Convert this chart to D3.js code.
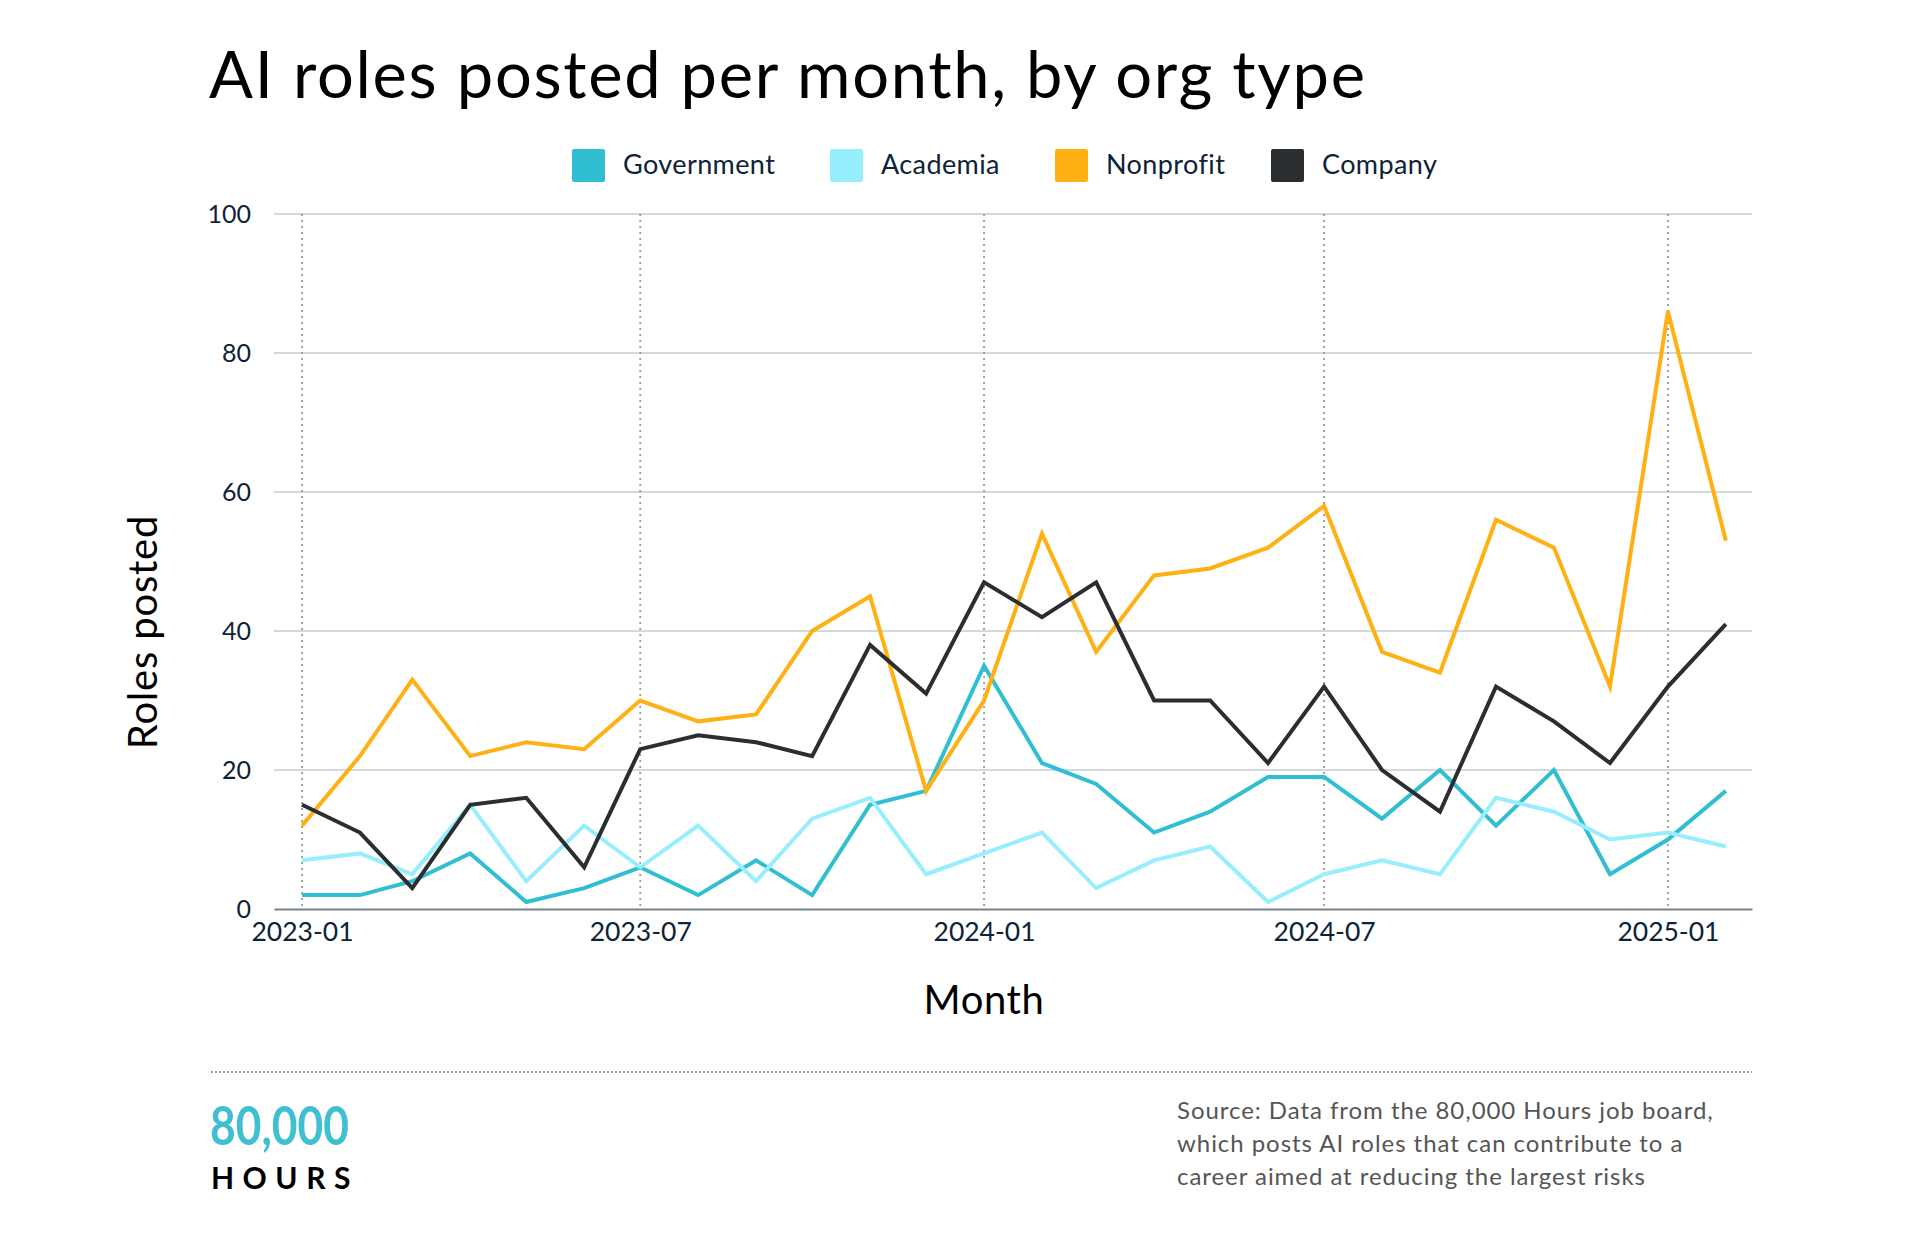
<!DOCTYPE html>
<html><head><meta charset="utf-8">
<script src="https://cdn.jsdelivr.net/npm/d3@7"></script>
<style>
html,body{margin:0;padding:0;background:#fff;}
svg{display:block;font-family:Lato,"Open Sans",sans-serif;}
</style></head>
<body>
<svg id="chart" width="1928" height="1240"></svg>
<script>
const months = ["2023-01","2023-02","2023-03","2023-04","2023-05","2023-06","2023-07","2023-08","2023-09","2023-10","2023-11","2023-12",
"2024-01","2024-02","2024-03","2024-04","2024-05","2024-06","2024-07","2024-08","2024-09","2024-10","2024-11","2024-12","2025-01","2025-02"];
const seriesNames = ["Government","Academia","Nonprofit","Company"];
const government = [2,2,4,8,1,3,6,2,7,2,15,17,35,21,18,11,14,19,19,13,20,12,20,5,10,17];
const academia   = [7,8,5,15,4,12,6,12,4,13,16,5,8,11,3,7,9,1,5,7,5,16,14,10,11,9];
const nonprofit  = [12,22,33,22,24,23,30,27,28,40,45,17,30,54,37,48,49,52,58,37,34,56,52,32,86,53];
const company    = [15,11,3,15,16,6,23,25,24,22,38,31,47,42,47,30,30,21,32,20,14,32,27,21,32,41];
const colors = ["#30bfd2","#97eefc","#ffb012","#2b2e30"];
const xTickLabels = ["2023-01","2023-07","2024-01","2024-07","2025-01"];
const yTicks = [0,20,40,60,80,100];

const series = [government, academia, nonprofit, company];
const svg = d3.select("#chart");
const parse = d3.timeParse("%Y-%m");
const dates = months.map(parse);

const L = 274, R = 1752, T = 214, B = 909;
const x = d3.scaleTime()
  .domain([d3.timeDay.offset(dates[0], -14.5), d3.timeDay.offset(dates[dates.length-1], 14.5)])
  .range([L, R]);
const y = d3.scaleLinear().domain([0,100]).range([B, T]);

// Title
svg.append("text").attr("x",209).attr("y",98)
  .attr("font-size",65).attr("fill","#000").attr("font-weight",400).attr("letter-spacing",1.7)
  .text("AI roles posted per month, by org type");

// Legend
const legendX = [572, 830, 1055, 1271];
seriesNames.forEach((n,i)=>{
  const g = svg.append("g").attr("transform",`translate(${legendX[i]},149)`);
  g.append("rect").attr("width",33).attr("height",33).attr("rx",2).attr("fill",colors[i]);
  g.append("text").attr("x",51).attr("y",25).attr("font-size",27).attr("letter-spacing",0.4).attr("fill","#0e2238").text(n);
});

// Horizontal grid
svg.append("g").selectAll("line").data(yTicks.filter(d=>d>0)).join("line")
  .attr("x1",L).attr("x2",R).attr("y1",d=>y(d)).attr("y2",d=>y(d))
  .attr("stroke","#c9ccd0").attr("stroke-width",1.6);

// Vertical dotted grid
const xTickDates = xTickLabels.map(parse);
svg.append("g").selectAll("line").data(xTickDates).join("line")
  .attr("x1",d=>x(d)).attr("x2",d=>x(d)).attr("y1",T).attr("y2",B)
  .attr("stroke","#9a9a9a").attr("stroke-width",1.8).attr("stroke-dasharray","2,4");

// Y axis labels
const yAxis = d3.axisLeft(y).tickValues(yTicks).tickSize(0).tickPadding(0);
const yg = svg.append("g").attr("transform",`translate(251,0)`).call(yAxis);
yg.select(".domain").remove();
yg.selectAll("text").attr("font-size",25).attr("fill","#0e2238").attr("font-family","Lato,sans-serif");

// X axis
const xAxis = d3.axisBottom(x).tickValues(xTickDates).tickFormat(d3.timeFormat("%Y-%m")).tickSize(0).tickPadding(0);
const xg = svg.append("g").attr("transform",`translate(0,${B})`).call(xAxis);
xg.select(".domain").attr("stroke","#77838d").attr("stroke-width",2);
xg.selectAll("text").attr("font-size",26.5).attr("fill","#0e2238").attr("dy","1.2em").attr("font-family","Lato,sans-serif");

// Lines
const line = d3.line().x((d,i)=>x(dates[i])).y(d=>y(d));
series.forEach((s,i)=>{
  svg.append("path").datum(s).attr("d",line).attr("fill","none")
    .attr("stroke",colors[i]).attr("stroke-width",4).attr("stroke-linejoin","miter");
});

// Axis titles
svg.append("text").attr("transform","translate(157,632) rotate(-90)")
  .attr("text-anchor","middle").attr("font-size",40).attr("letter-spacing",0.8).attr("fill","#000").text("Roles posted");
svg.append("text").attr("x",984).attr("y",1014)
  .attr("text-anchor","middle").attr("font-size",40).attr("letter-spacing",0.6).attr("fill","#000").text("Month");

// Footer dotted rule
svg.append("line").attr("x1",211).attr("x2",1752).attr("y1",1072).attr("y2",1072)
  .attr("stroke","#9a9a9a").attr("stroke-width",2).attr("stroke-dasharray","2,2");

// Logo
svg.append("text").attr("x",210).attr("y",1145).attr("font-size",54).attr("font-weight",700)
  .attr("fill","#40bfd3").attr("textLength",139).attr("lengthAdjust","spacingAndGlyphs").text("80,000");
svg.append("text").attr("x",211).attr("y",1189).attr("font-size",30).attr("font-weight",700)
  .attr("fill","#000").attr("letter-spacing",8.5).text("HOURS");

// Source
const src = ["Source: Data from the 80,000 Hours job board,","which posts AI roles that can contribute to a","career aimed at reducing the largest risks"];
svg.append("g").selectAll("text").data(src).join("text")
  .attr("x",1177).attr("y",(d,i)=>1119+i*33).attr("font-size",24).attr("letter-spacing",0.95).attr("fill","#555").text(d=>d);
</script>
</body></html>
